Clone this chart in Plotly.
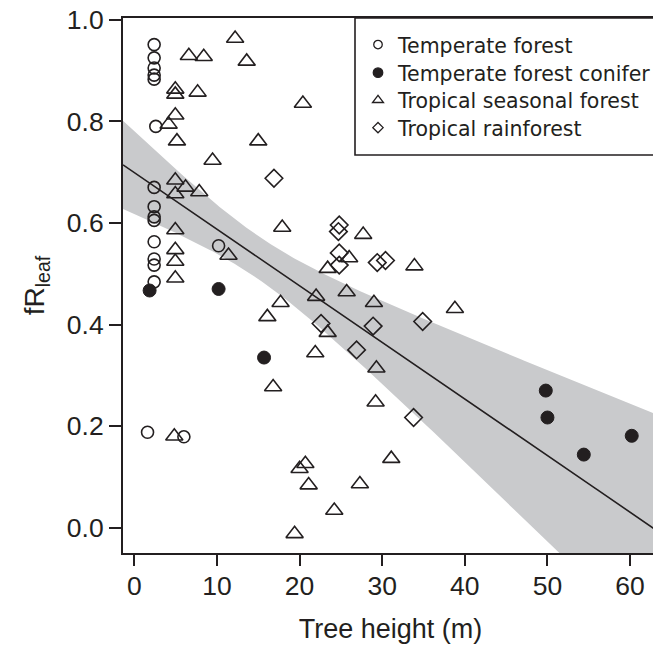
import numpy as np
import plotly.graph_objects as go

# ---------------- data ----------------
# Temperate forest (open circles)
tf_height = [2.4, 2.4, 2.4, 2.4, 2.4, 2.6, 2.4, 2.4, 2.4, 2.4, 2.4, 2.4, 2.4, 2.4, 10.2, 1.6, 6.0]
tf_frleaf = [0.951, 0.925, 0.905, 0.891, 0.883, 0.790, 0.670, 0.632, 0.612, 0.605,
             0.563, 0.529, 0.517, 0.484, 0.555, 0.188, 0.179]

# Temperate forest conifer (filled circles)
tfc_height = [1.85, 10.2, 15.7, 49.8, 50.0, 54.4, 60.2]
tfc_frleaf = [0.467, 0.470, 0.335, 0.270, 0.217, 0.144, 0.181]

# Tropical seasonal forest (open triangles)
tsf_height = [12.2, 6.6, 8.4, 13.6, 4.96, 4.96, 7.66, 20.4, 4.96, 4.15,
              5.16, 15.0, 9.47, 4.96, 6.2, 4.96, 7.86, 17.9, 4.96, 4.96,
              11.4, 4.96, 4.96, 17.7, 16.1, 22.0, 21.9, 16.8, 4.84, 20.7,
              20.0, 21.1, 19.4, 27.7, 26.0, 23.4, 33.9, 25.7, 29.0, 38.8,
              23.4, 29.3, 29.2, 31.1, 27.3, 24.2]
tsf_frleaf = [0.963, 0.929, 0.927, 0.918, 0.863, 0.853, 0.857, 0.835, 0.812, 0.794,
              0.761, 0.761, 0.723, 0.684, 0.670, 0.657, 0.661, 0.591, 0.586, 0.547,
              0.536, 0.524, 0.491, 0.443, 0.415, 0.455, 0.344, 0.277, 0.180, 0.126,
              0.116, 0.084, -0.012, 0.577, 0.531, 0.510, 0.515, 0.464, 0.443, 0.431,
              0.384, 0.314, 0.247, 0.136, 0.086, 0.034]

# Tropical rainforest (open diamonds)
trf_height = [16.9, 24.8, 24.7, 24.8, 24.8, 29.4, 30.4, 22.6, 28.9, 34.9, 26.9, 33.8]
trf_frleaf = [0.688, 0.596, 0.583, 0.541, 0.517, 0.522, 0.526, 0.402, 0.397, 0.406, 0.350, 0.217]

series_names = ["Temperate forest", "Temperate forest conifer",
                "Tropical seasonal forest", "Tropical rainforest"]

x_ticks = [0, 10, 20, 30, 40, 50, 60]
y_ticks = [0.0, 0.2, 0.4, 0.6, 0.8, 1.0]
x_range = [-1.37, 63.38]
y_range = [-0.0497, 1.0034]

# fitted regression line and its 95% confidence band
fit_intercept = 0.699
fit_slope = -0.01114
band_centre_x = 14.98        # height where the band is narrowest
band_min_half = 0.0423       # half-width there
band_growth = 2.1623e-5      # growth of squared half-width per squared metre

xg = np.linspace(x_range[0], x_range[1], 240)
yhat = fit_intercept + fit_slope * xg
hw = np.sqrt(band_min_half ** 2 + band_growth * (xg - band_centre_x) ** 2)
upper = yhat + hw
lower = yhat - hw

INK = "#231f20"
FONT = "Liberation Sans"

fig = go.Figure()
fig.add_trace(go.Scatter(x=np.concatenate([xg, xg[::-1]]), y=np.concatenate([upper, lower[::-1]]),
                         fill="toself", fillcolor="#c9cacc", line=dict(width=0),
                         mode="lines", showlegend=False, hoverinfo="skip"))
fig.add_trace(go.Scatter(x=xg, y=yhat, mode="lines", line=dict(color=INK, width=1.6),
                         showlegend=False, hoverinfo="skip"))

mk_line = 1.6
fig.add_trace(go.Scatter(x=tsf_height, y=tsf_frleaf, mode="markers", showlegend=False,
                         marker=dict(symbol="triangle-up-open", size=15, color=INK,
                                     line=dict(width=mk_line, color=INK))))
fig.add_trace(go.Scatter(x=trf_height, y=trf_frleaf, mode="markers", showlegend=False,
                         marker=dict(symbol="diamond-open", size=13.5, color=INK,
                                     line=dict(width=mk_line, color=INK))))
fig.add_trace(go.Scatter(x=tf_height, y=tf_frleaf, mode="markers", showlegend=False,
                         marker=dict(symbol="circle-open", size=12, color=INK,
                                     line=dict(width=mk_line, color=INK))))
fig.add_trace(go.Scatter(x=tfc_height, y=tfc_frleaf, mode="markers", showlegend=False,
                         marker=dict(symbol="circle", size=13, color=INK,
                                     line=dict(width=1, color=INK))))

# legend-only entries (small symbols like the reference)
leg_syms = [("circle-open", 8.5), ("circle", 9.5), ("triangle-up-open", 9.5), ("diamond-open", 8)]
leg_ids = ["legend", "legend2", "legend3", "legend4"]
for name, (sym, sz), lid in zip(series_names, leg_syms, leg_ids):
    fig.add_trace(go.Scatter(x=[None], y=[None], mode="markers", name=name, legend=lid,
                             marker=dict(symbol=sym, size=sz, color=INK,
                                         line=dict(width=1.3, color=INK))))

# page offset (default body margin of the html page)
OFF = 8
W, H = 661, 646
L, T = 123 - OFF, 18 - OFF
pw, ph = 535, 535
R = W - L - pw
B = H - T - ph

def px_x(p):          # window pixel -> paper x
    return (p - OFF - L) / pw

def px_y(p):          # window pixel -> paper y
    return (H - B - (p - OFF)) / ph

leg_font = dict(family="DejaVu Sans", size=20.5, color=INK)
leg_centers = [44.7, 72.8, 100.3, 127.8]
leg_layout = {}
for lid, cy in zip(leg_ids, leg_centers):
    leg_layout[lid] = dict(x=px_x(358), y=px_y(cy), xanchor="left", yanchor="middle",
                           bgcolor="rgba(0,0,0,0)", borderwidth=0, font=leg_font,
                           itemclick=False, itemdoubleclick=False)
fig.update_layout(**leg_layout)

fig.add_shape(type="rect", xref="paper", yref="paper",
              x0=px_x(355), x1=1, y0=px_y(155), y1=1,
              line=dict(color=INK, width=1.6), fillcolor="rgba(0,0,0,0)", layer="above")

axis_common = dict(showgrid=False, zeroline=False, showline=True, linewidth=2, linecolor=INK,
                   mirror=True, ticks="outside", tickwidth=1.5, tickcolor=INK, automargin=False,
                   ticklabeloverflow="allow",
                   tickfont=dict(family=FONT, size=26.5, color=INK))

fig.update_layout(
    width=W, height=H,
    margin=dict(l=L, r=R, t=T, b=B, pad=0),
    paper_bgcolor="white", plot_bgcolor="white",
    hovermode=False,
    xaxis=dict(range=x_range, tickvals=x_ticks, ticktext=[str(v) for v in x_ticks],
               ticklen=11, ticklabelstandoff=-3,
               title=dict(text="Tree height (m)", font=dict(family=FONT, size=27, color=INK),
                          standoff=19),
               **axis_common),
    yaxis=dict(range=y_range, tickvals=y_ticks, ticktext=["%.1f" % v for v in y_ticks],
               ticklen=12,
               title=dict(text="fR<sub>leaf</sub>", font=dict(family=FONT, size=28, color=INK),
                          standoff=14),
               **axis_common),
)

fig.write_html("out.html")
